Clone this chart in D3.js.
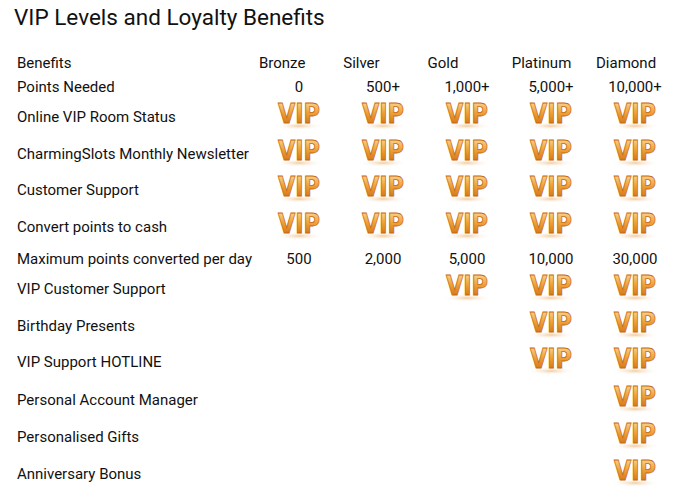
<!DOCTYPE html><html><head><meta charset="utf-8">
<script src="https://cdn.jsdelivr.net/npm/d3@7"></script>
<style>body{margin:0;background:#fff}</style></head><body><svg id="c" width="693" height="501"></svg>
<script>
const title = "VIP Levels and Loyalty Benefits";
const tiers = ["Bronze","Silver","Gold","Platinum","Diamond"];
const benefits = ["Points Needed","Online VIP Room Status","CharmingSlots Monthly Newsletter","Customer Support","Convert points to cash","Maximum points converted per day","VIP Customer Support","Birthday Presents","VIP Support HOTLINE","Personal Account Manager","Personalised Gifts","Anniversary Bonus"];
// "VIP" = icon, "" = none, otherwise text
const cells = [
 ["0","500+","1,000+","5,000+","10,000+"],
 ["VIP","VIP","VIP","VIP","VIP"],
 ["VIP","VIP","VIP","VIP","VIP"],
 ["VIP","VIP","VIP","VIP","VIP"],
 ["VIP","VIP","VIP","VIP","VIP"],
 ["500","2,000","5,000","10,000","30,000"],
 ["","","VIP","VIP","VIP"],
 ["","","","VIP","VIP"],
 ["","","","VIP","VIP"],
 ["","","","","VIP"],
 ["","","","","VIP"],
 ["","","","","VIP"]];
const rowY = [87,117,154,190,227,259,289,326,362,400,437,474];
const svg = d3.select("#c");
const font = "Roboto, 'Liberation Sans', sans-serif";
const defs = svg.append("defs");
const g1 = defs.append("linearGradient").attr("id","vg").attr("x1",0).attr("y1",0).attr("x2",0).attr("y2",1);
g1.append("stop").attr("offset","0").attr("stop-color","#fde3a8");
g1.append("stop").attr("offset","0.45").attr("stop-color","#f0a23a");
g1.append("stop").attr("offset","1").attr("stop-color","#c8620a");
const g2 = defs.append("radialGradient").attr("id","rg");
g2.append("stop").attr("offset","0").attr("stop-color","#e8a050").attr("stop-opacity",0.55);
g2.append("stop").attr("offset","1").attr("stop-color","#fff").attr("stop-opacity",0);

svg.append("text").attr("x",14).attr("y",25).attr("font-family",font).attr("font-size",22.5).attr("fill","#111").text(title);
const x = d3.scalePoint().domain(tiers).range([299,635]);
const hx = d3.scalePoint().domain(tiers).range([259,596]);
const y = d3.scaleOrdinal().domain(benefits).range(rowY);
const fs = 15;
svg.append("text").attr("x",17).attr("y",68).attr("font-family",font).attr("font-size",fs).attr("fill","#111").text("Benefits");
svg.selectAll(".h").data(tiers).join("text").attr("x",d=>hx(d)).attr("y",68).attr("font-family",font).attr("font-size",fs).attr("fill","#111").text(d=>d);
svg.selectAll(".b").data(benefits).join("text").attr("x",17).attr("y",d=>y(d)+5).attr("font-family",font).attr("font-size",fs).attr("fill","#111").text(d=>d);
benefits.forEach((b,i)=>{
  tiers.forEach((t,j)=>{
    const v = cells[i][j]; if(!v) return;
    const cx = x(t), cy = y(b);
    if(v==="VIP"){
      const gg = svg.append("g").attr("transform",`translate(${cx},${cy})`);
      gg.append("ellipse").attr("cx",0).attr("cy",9).attr("rx",24).attr("ry",4).attr("fill","url(#rg)");
      gg.append("text").attr("x",0).attr("y",6).attr("text-anchor","middle")
        .attr("font-family","'Liberation Sans Narrow','DejaVu Sans Condensed',sans-serif").attr("font-weight","bold").attr("font-size",26)
        .attr("textLength",42).attr("lengthAdjust","spacingAndGlyphs")
        .attr("fill","url(#vg)").attr("stroke","#c86a10").attr("stroke-width",0.8).text("VIP");
    } else {
      svg.append("text").attr("x",cx).attr("y",cy+5).attr("text-anchor","middle").attr("font-family",font).attr("font-size",fs).attr("fill","#111").text(v);
    }
  });
});
</script></body></html>
